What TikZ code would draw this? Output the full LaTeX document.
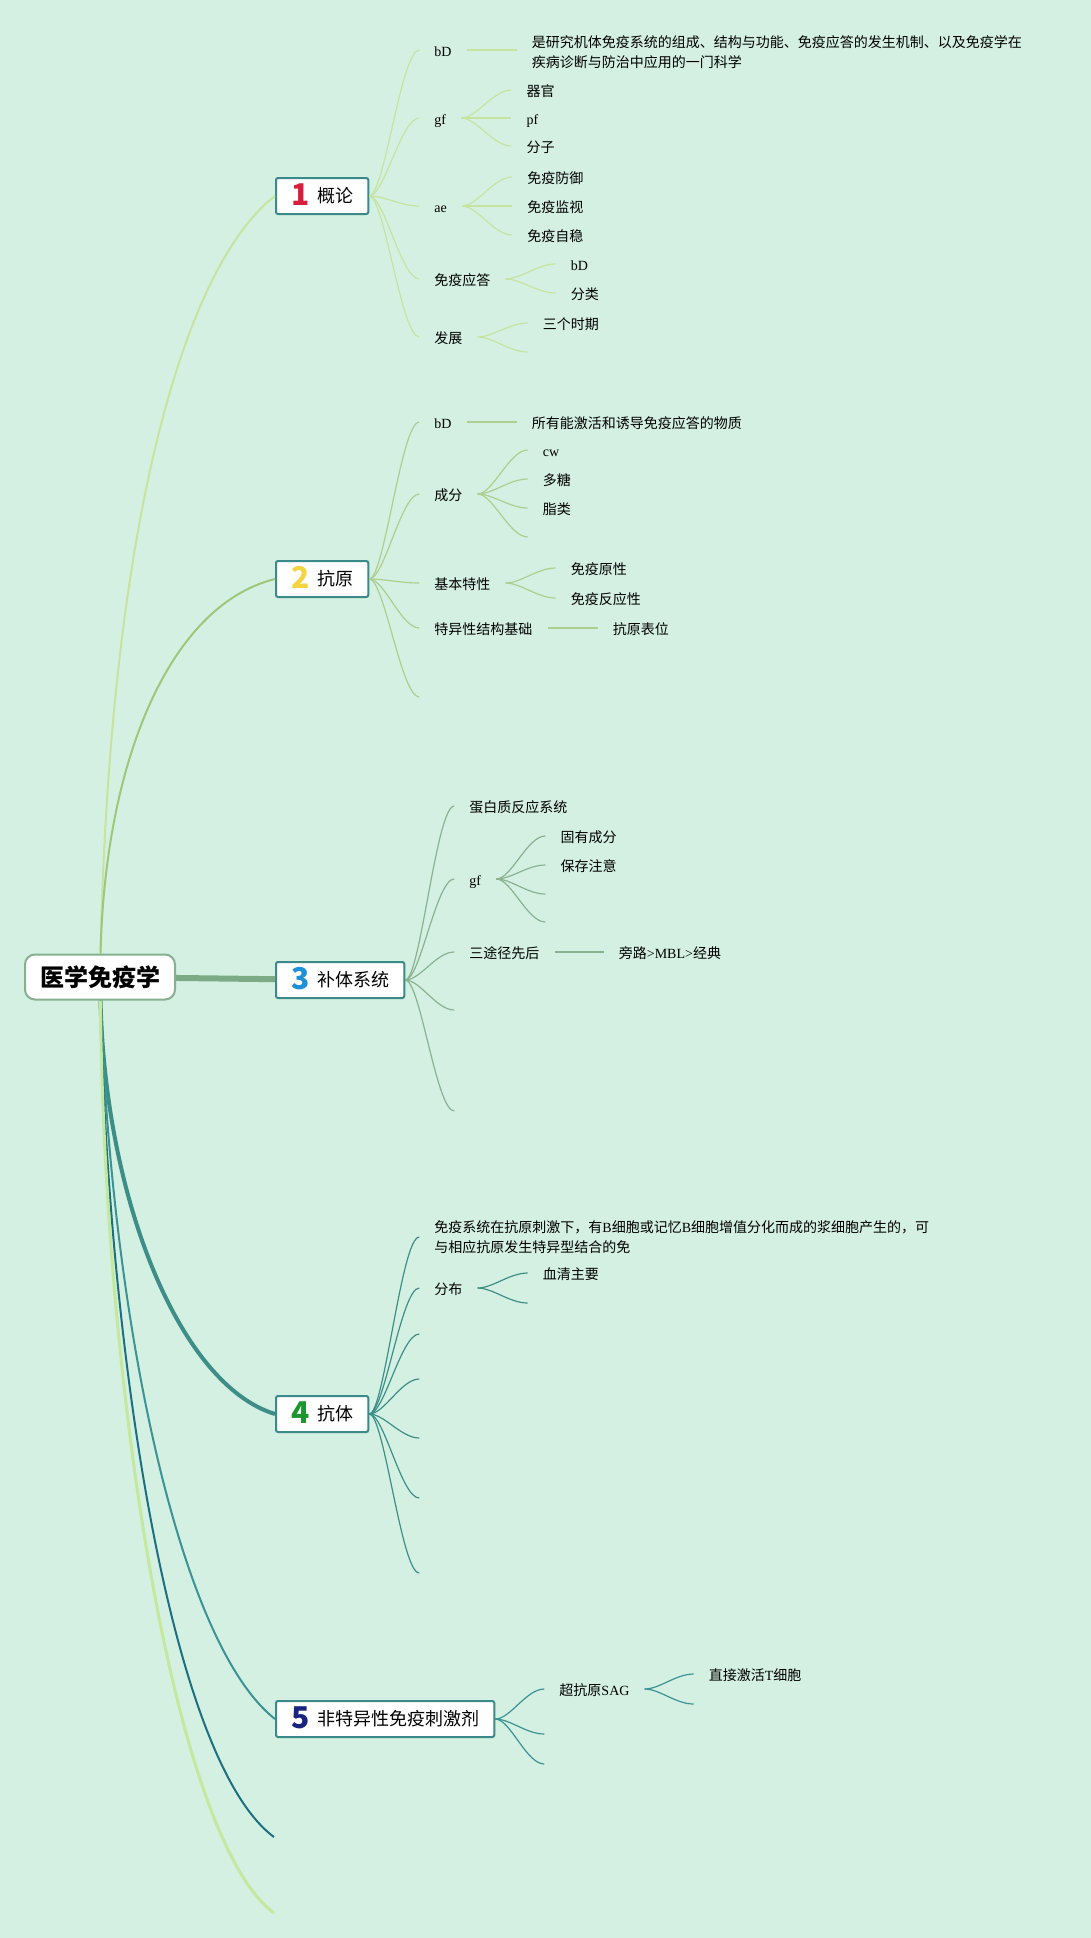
\documentclass[tikz,border=0pt]{standalone}
\usepackage{fontspec}
\setmainfont{Liberation Serif}
\newfontfamily\cjk{Noto Sans CJK SC}
\definecolor{imbg}{RGB}{212,240,226}
\definecolor{imgray}{RGB}{134,176,142}
\definecolor{imteal}{RGB}{58,138,138}
\definecolor{imlime}{RGB}{198,228,160}
\definecolor{imgreen}{RGB}{157,199,122}
\definecolor{imsage}{RGB}{124,170,132}
\definecolor{imsea}{RGB}{62,142,136}
\definecolor{imcyan}{RGB}{59,147,147}
\definecolor{impetrol}{RGB}{29,111,128}
\definecolor{impale}{RGB}{196,232,157}
\definecolor{imred}{RGB}{216,30,60}
\definecolor{imyellow}{RGB}{245,212,66}
\definecolor{imblue}{RGB}{30,144,216}
\definecolor{imleaf}{RGB}{30,150,48}
\definecolor{imnavy}{RGB}{26,35,126}
\newcommand{\entxt}[1]{{\rmfamily #1}}
\newcommand{\topicnum}[2]{\raisebox{-3pt}{\textcolor{#1}{\fontsize{30}{30}\selectfont\bfseries #2}}\hspace{8pt}}

\begin{document}
\begin{tikzpicture}[
    x=1pt, y=-1pt,
    rootbox/.style={draw=imgray,fill=white,line width=2pt,rounded corners=10pt,font=\cjk\bfseries\fontsize{24}{28}\selectfont,inner xsep=15pt,minimum height=45pt},
    topic/.style={draw=imteal,fill=white,line width=2pt,rounded corners=2pt,font=\cjk\fontsize{18}{22}\selectfont,inner xsep=15pt,inner ysep=0pt,text height=16pt,text depth=3pt,minimum height=36pt,anchor=west},
    leaf/.style={font=\cjk\fontsize{14}{20}\selectfont,inner xsep=15pt,inner ysep=0pt,text height=13pt,text depth=1pt,anchor=west},
    note/.style={font=\cjk\fontsize{14}{20}\selectfont,inner xsep=15pt,align=left,anchor=west,yshift=-2pt},
    twig/.style={to path={.. controls +(15,0) and +(-18,0) .. (\tikztotarget)}},
    s1/.style={draw=imlime,line width=1.2pt},
    s2/.style={draw=imgreen!85,line width=1.2pt},
    s3/.style={draw=imsage!90,line width=1.2pt},
    s4/.style={draw=imsea,line width=1.2pt},
    s5/.style={draw=imcyan,line width=1.2pt}
  ]
    \fill[imbg,use as bounding box] (0,0) rectangle (1091,1938);

    \node[rootbox] (root) at (100,977) {医学免疫学};
    \node[topic] (t1) at (275,196) {\topicnum{imred}{1}概论};
    \node[topic] (t2) at (275,579) {\topicnum{imyellow}{2}抗原};
    \node[topic] (t3) at (275,980) {\topicnum{imblue}{3}补体系统};
    \node[topic] (t4) at (275,1414) {\topicnum{imleaf}{4}抗体};
    \node[topic] (t5) at (275,1719) {\topicnum{imnavy}{5}非特异性免疫刺激剂};
    \coordinate (e6) at (274,1837);
    \coordinate (e7) at (274,1913);

    \draw[imlime,line width=2pt] (root) .. controls (110,520) and (185,265) .. (t1.west);
    \draw[imgreen,line width=2pt] (root) .. controls (105,760) and (170,605) .. (t2.west);
    \draw[imsage,line width=6pt] (root) -- (t3);
    \draw[imsea,line width=4pt] (root) .. controls (105,1200) and (180,1385) .. (t4.west);
    \draw[imcyan,line width=2pt] (root) .. controls (110,1300) and (175,1640) .. (t5.west);
    \draw[impetrol,line width=2pt] (root) .. controls (108,1350) and (170,1760) .. (e6);
    \draw[impale,line width=3pt] (root) .. controls (105,1400) and (175,1840) .. (e7);

    % 概论
    \node[leaf] (t1a) at ([shift={(50,-146)}]t1.east) {\entxt{bD}};
    \node[leaf] (t1b) at ([shift={(50,-78)}]t1.east) {\entxt{gf}};
    \node[leaf] (t1c) at ([shift={(50,10)}]t1.east) {\entxt{ae}};
    \node[leaf] (t1d) at ([shift={(50,83)}]t1.east) {免疫应答};
    \node[leaf] (t1e) at ([shift={(50,141)}]t1.east) {发展};
    \node[note] (t1a1) at ([shift={(50,0)}]t1a.east) {是研究机体免疫系统的组成、结构与功能、免疫应答的发生机制、以及免疫学在\\疾病诊断与防治中应用的一门科学};
    \node[leaf] (t1b1) at ([shift={(50,-28)}]t1b.east) {器官};
    \node[leaf] (t1b2) at ([shift={(50,0)}]t1b.east) {\entxt{pf}};
    \node[leaf] (t1b3) at ([shift={(50,28)}]t1b.east) {分子};
    \node[leaf] (t1c1) at ([shift={(50,-29)}]t1c.east) {免疫防御};
    \node[leaf] (t1c2) at ([shift={(50,0)}]t1c.east) {免疫监视};
    \node[leaf] (t1c3) at ([shift={(50,29)}]t1c.east) {免疫自稳};
    \node[leaf] (t1d1) at ([shift={(50,-15)}]t1d.east) {\entxt{bD}};
    \node[leaf] (t1d2) at ([shift={(50,14)}]t1d.east) {分类};
    \node[leaf] (t1e1) at ([shift={(50,-14)}]t1e.east) {三个时期};
    \coordinate (t1e2) at ([shift={(50,15)}]t1e.east);
    \draw[s1] (t1.east) edge[twig] (t1a.west) edge[twig] (t1b.west) edge[twig] (t1c.west)
      edge[twig] (t1d.west) edge[twig] (t1e.west);
    \draw[s1] (t1a.east) -- (t1a.east -| t1a1.west);
    \draw[s1] (t1b.east) edge[twig] (t1b1.west) edge[twig] (t1b2.west) edge[twig] (t1b3.west);
    \draw[s1] (t1c.east) edge[twig] (t1c1.west) edge[twig] (t1c2.west) edge[twig] (t1c3.west);
    \draw[s1] (t1d.east) edge[twig] (t1d1.west) edge[twig] (t1d2.west);
    \draw[s1] (t1e.east) edge[twig] (t1e1.west) edge[twig] (t1e2);

    % 抗原
    \node[leaf] (t2a) at ([shift={(50,-157)}]t2.east) {\entxt{bD}};
    \node[leaf] (t2b) at ([shift={(50,-85)}]t2.east) {成分};
    \node[leaf] (t2c) at ([shift={(50,4)}]t2.east) {基本特性};
    \node[leaf] (t2d) at ([shift={(50,49)}]t2.east) {特异性结构基础};
    \coordinate (t2e) at ([shift={(50,118)}]t2.east);
    \node[leaf] (t2a1) at ([shift={(50,0)}]t2a.east) {所有能激活和诱导免疫应答的物质};
    \node[leaf] (t2b1) at ([shift={(50,-44)}]t2b.east) {\entxt{cw}};
    \node[leaf] (t2b2) at ([shift={(50,-15)}]t2b.east) {多糖};
    \node[leaf] (t2b3) at ([shift={(50,14)}]t2b.east) {脂类};
    \coordinate (t2b4) at ([shift={(50,43)}]t2b.east);
    \node[leaf] (t2c1) at ([shift={(50,-15)}]t2c.east) {免疫原性};
    \node[leaf] (t2c2) at ([shift={(50,15)}]t2c.east) {免疫反应性};
    \node[leaf] (t2d1) at ([shift={(50,0)}]t2d.east) {抗原表位};
    \draw[s2] (t2.east) edge[twig] (t2a.west) edge[twig] (t2b.west) edge[twig] (t2c.west)
      edge[twig] (t2d.west) edge[twig] (t2e);
    \draw[s2] (t2a.east) -- (t2a1.west);
    \draw[s2] (t2b.east) edge[twig] (t2b1.west) edge[twig] (t2b2.west) edge[twig] (t2b3.west) edge[twig] (t2b4);
    \draw[s2] (t2c.east) edge[twig] (t2c1.west) edge[twig] (t2c2.west);
    \draw[s2] (t2d.east) -- (t2d1.west);

    % 补体系统
    \node[leaf] (t3a) at ([shift={(49,-174)}]t3.east) {蛋白质反应系统};
    \node[leaf] (t3b) at ([shift={(49,-101)}]t3.east) {\entxt{gf}};
    \node[leaf] (t3c) at ([shift={(49,-28)}]t3.east) {三途径先后};
    \coordinate (t3d) at ([shift={(49,30)}]t3.east);
    \coordinate (t3e) at ([shift={(49,131)}]t3.east);
    \node[leaf] (t3b1) at ([shift={(49,-43)}]t3b.east) {固有成分};
    \node[leaf] (t3b2) at ([shift={(49,-14)}]t3b.east) {保存注意};
    \coordinate (t3b3) at ([shift={(49,15)}]t3b.east);
    \coordinate (t3b4) at ([shift={(49,43)}]t3b.east);
    \node[leaf] (t3c1) at ([shift={(49,0)}]t3c.east) {旁路\entxt{>MBL>}经典};
    \draw[s3] (t3.east) edge[twig] (t3a.west) edge[twig] (t3b.west) edge[twig] (t3c.west)
      edge[twig] (t3d) edge[twig] (t3e);
    \draw[s3] (t3b.east) edge[twig] (t3b1.west) edge[twig] (t3b2.west) edge[twig] (t3b3) edge[twig] (t3b4);
    \draw[s3] (t3c.east) -- (t3c1.west);

    % 抗体
    \node[note] (t4a) at ([shift={(50,-179)}]t4.east) {免疫系统在抗原刺激下，有\entxt{B}细胞或记忆\entxt{B}细胞增值分化而成的浆细胞产生的，可\\与相应抗原发生特异型结合的免};
    \node[leaf] (t4b) at ([shift={(50,-126)}]t4.east) {分布};
    \coordinate (t4c) at ([shift={(50,-80)}]t4.east);
    \coordinate (t4d) at ([shift={(50,-35)}]t4.east);
    \coordinate (t4e) at ([shift={(50,24)}]t4.east);
    \coordinate (t4f) at ([shift={(50,84)}]t4.east);
    \coordinate (t4g) at ([shift={(50,159)}]t4.east);
    \node[leaf] (t4b1) at ([shift={(50,-15)}]t4b.east) {血清主要};
    \coordinate (t4b2) at ([shift={(50,15)}]t4b.east);
    \draw[s4] (t4.east) edge[twig] (t4a.west) edge[twig] (t4b.west) edge[twig] (t4c) edge[twig] (t4d)
      edge[twig] (t4e) edge[twig] (t4f) edge[twig] (t4g);
    \draw[s4] (t4b.east) edge[twig] (t4b1.west) edge[twig] (t4b2);

    % 非特异性免疫刺激剂
    \node[leaf] (t5a) at ([shift={(49,-30)}]t5.east) {超抗原\entxt{SAG}};
    \coordinate (t5b) at ([shift={(49,15)}]t5.east);
    \coordinate (t5c) at ([shift={(49,45)}]t5.east);
    \node[leaf] (t5a1) at ([shift={(49,-15)}]t5a.east) {直接激活\entxt{T}细胞};
    \coordinate (t5a2) at ([shift={(49,15)}]t5a.east);
    \draw[s5] (t5.east) edge[twig] (t5a.west) edge[twig] (t5b) edge[twig] (t5c);
    \draw[s5] (t5a.east) edge[twig] (t5a1.west) edge[twig] (t5a2);
  \end{tikzpicture}
\end{document}
